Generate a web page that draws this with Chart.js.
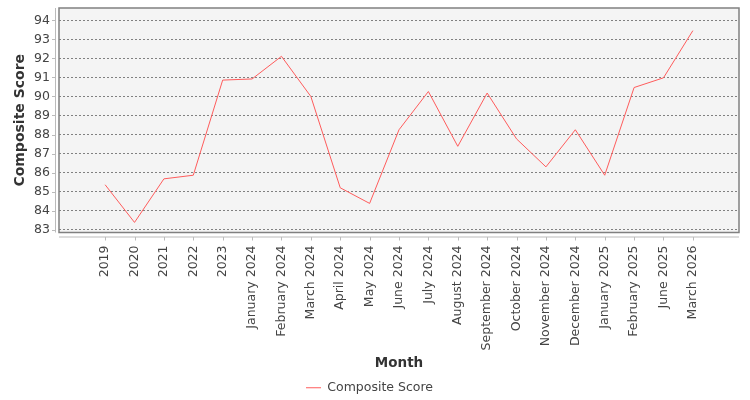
<!DOCTYPE html>
<html>
<head>
<meta charset="utf-8">
<script src="https://cdn.jsdelivr.net/npm/chart.js@4"></script>
<style>
  html, body { margin: 0; padding: 0; background: #fff; }
  #wrap { width: 750px; height: 400px; }
</style>
</head>
<body>
<div id="wrap"><canvas id="chart"></canvas></div>
<script>
const months = ['2019', '2020', '2021', '2022', '2023', 'January 2024', 'February 2024', 'March 2024',
  'April 2024', 'May 2024', 'June 2024', 'July 2024', 'August 2024', 'September 2024', 'October 2024',
  'November 2024', 'December 2024', 'January 2025', 'February 2025', 'June 2025', 'March 2026'];
const scores = [85.36, 83.38, 85.67, 85.86, 90.86, 90.92, 92.11, 90.0, 85.2, 84.38, 88.25,
  90.26, 87.38, 90.18, 87.77, 86.3, 88.25, 85.86, 90.47, 90.98, 93.46];
const yTicks = [83, 84, 85, 86, 87, 88, 89, 90, 91, 92, 93, 94];

const textColor = '#444';
const fontFamily = '"DejaVu Sans", sans-serif';

// plot background, frame, offset axis lines and tick marks
const plotFrame = {
  id: 'plotFrame',
  beforeDraw(chart) {
    const {ctx, chartArea: a} = chart;
    ctx.save();
    ctx.fillStyle = '#f4f4f4';
    ctx.fillRect(a.left, a.top, a.right - a.left, a.bottom - a.top);
    ctx.restore();
  },
  afterDraw(chart) {
    const {ctx, chartArea: a, scales} = chart;
    ctx.save();
    ctx.strokeStyle = '#808080';
    ctx.lineWidth = 1.5;
    ctx.strokeRect(a.left, a.top, a.right - a.left, a.bottom - a.top);

    ctx.strokeStyle = '#bbbbbb';
    ctx.lineWidth = 1;
    ctx.beginPath();
    ctx.moveTo(a.left - 3.5, a.top);
    ctx.lineTo(a.left - 3.5, a.bottom);
    ctx.moveTo(a.left, a.bottom + 4.5);
    ctx.lineTo(a.right, a.bottom + 4.5);
    yTicks.forEach(v => {
      const y = Math.round(scales.y.getPixelForValue(v)) + 0.5;
      ctx.moveTo(a.left - 7, y);
      ctx.lineTo(a.left - 3.5, y);
    });
    months.forEach((m, i) => {
      const x = Math.round(scales.x.getPixelForValue(i)) + 0.5;
      ctx.moveTo(x, a.bottom + 4.5);
      ctx.lineTo(x, a.bottom + 8);
    });
    ctx.stroke();
    ctx.restore();
  }
};

new Chart(document.getElementById('chart'), {
  type: 'line',
  data: {
    datasets: [{
      label: 'Composite Score',
      data: months.map((m, i) => ({x: i, y: scores[i]})),
      borderColor: '#ff5c5c',
      backgroundColor: '#ff5c5c',
      borderWidth: 1,
      pointRadius: 0,
      tension: 0,
      fill: false
    }]
  },
  options: {
    responsive: true,
    maintainAspectRatio: false,
    animation: false,
    layout: { padding: { top: 8, right: 11, left: 0, bottom: -4 } },
    scales: {
      x: {
        type: 'linear',
        min: -1.57,
        max: 21.57,
        grid: { display: false, drawTicks: false },
        border: { display: false },
        afterBuildTicks: s => { s.ticks = months.map((m, i) => ({value: i})); },
        afterFit: s => { s.height = 143; s.paddingLeft = 0; s.paddingRight = 0; },
        ticks: {
          autoSkip: false,
          minRotation: 90,
          maxRotation: 90,
          padding: 13,
          color: textColor,
          font: { family: fontFamily, size: 12.5 },
          callback: v => months[v]
        },
        title: {
          display: true,
          text: 'Month',
          color: '#333',
          padding: { top: 0, bottom: 4 },
          font: { family: fontFamily, size: 13.5, weight: 'bold' }
        }
      },
      y: {
        min: 82.85,
        max: 94.65,
        grid: { color: '#808080', borderDash: [2, 2], drawTicks: false },
        border: { display: false, dash: [2, 2] },
        afterBuildTicks: s => { s.ticks = yTicks.map(v => ({value: v})); },
        afterFit: s => { s.width = 59; s.paddingTop = 0; s.paddingBottom = 0; },
        ticks: {
          padding: 9,
          color: textColor,
          font: { family: fontFamily, size: 12.5 }
        },
        title: {
          display: true,
          text: 'Composite Score',
          color: '#333',
          padding: { top: 12, bottom: 0 },
          font: { family: fontFamily, size: 14, weight: 'bold' }
        }
      }
    },
    plugins: {
      legend: {
        position: 'bottom',
        labels: {
          usePointStyle: true,
          pointStyle: 'line',
          pointStyleWidth: 15,
          padding: 6,
          color: textColor,
          font: { family: fontFamily, size: 12.5 }
        }
      },
      tooltip: { enabled: false }
    }
  },
  plugins: [plotFrame]
});
</script>
</body>
</html>
